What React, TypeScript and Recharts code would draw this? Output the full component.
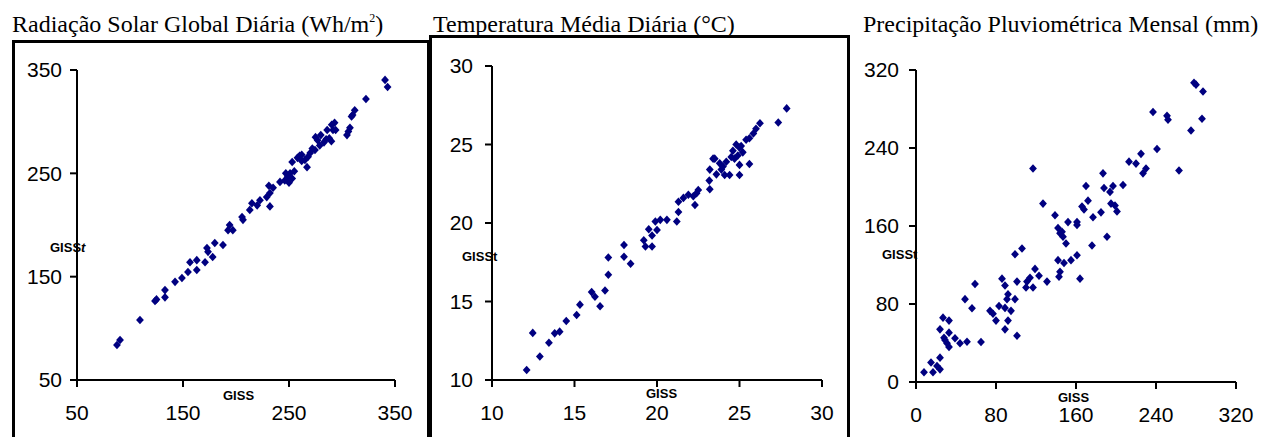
import React from 'react';
import { ScatterChart, Scatter, XAxis, YAxis } from 'recharts';

// Radiação solar global diária (Wh/m2)
const radGiss = [
  340.6, 343, 322.6, 312, 310, 309, 307.5, 306, 304.7, 293, 294, 290.3, 291.5, 286,
  275, 280, 285, 290, 283, 277, 288, 274.5, 270, 258, 262, 265, 268, 262, 260, 267,
  253, 246, 249, 251, 253, 255, 250, 247, 241.5, 235, 232, 229, 222.6, 220, 231, 232,
  215, 213, 205.7, 206.6, 194, 197, 192.5, 187.7, 180, 172.6, 173.6, 178, 170.8, 163,
  156.6, 163, 154.7, 149, 142.5, 133, 133, 123.6, 125, 109.4, 90.6, 87.7, 272, 279,
];
const radGisst = [
  340.4, 333.6, 322, 311, 306.5, 305, 294, 290.4, 287, 299, 292, 297, 292, 292,
  285, 287, 283, 281, 280, 282, 284, 272.6, 269.7, 265, 268, 263, 266, 262, 267, 256,
  261, 243, 247, 250, 245, 252, 241, 250, 241.7, 236, 231, 227, 224, 219, 238, 218,
  221, 214.6, 207.8, 205, 200, 195, 195, 180.7, 182.6, 177.8, 174, 169, 164, 166,
  164, 156.5, 154.5, 148.7, 145, 137, 130, 126.5, 128, 108, 88.7, 83.9, 274, 277,
];
const radTicks = [50, 150, 250, 350];

// Temperatura média diária (°C)
const tempGiss = [
  27.86, 27.35, 26.24, 26.0, 25.84, 25.6, 25.4, 24.8, 25.0, 24.6, 25.2, 24.9, 24.5,
  25.1, 24.7, 25.6, 25.0, 25.0, 24.4, 24.1, 23.5, 23.8, 24.0, 24.2, 23.9, 23.6, 23.4,
  23.2, 23.17, 23.2, 22.5, 22.4, 22.2, 22.3, 21.9, 21.6, 21.3, 21.3, 21.2, 20.6, 20.2,
  19.9, 20.0, 19.7, 19.5, 19.2, 19.3, 19.7, 18.0, 18.0, 18.4, 17.05, 17.05, 16.04,
  16.24, 16.85, 16.55, 15.33, 15.13, 14.5, 14.1, 13.8, 13.45, 12.47, 12.9, 12.1,
];
const tempGisst = [
  27.3, 26.4, 26.35, 26.0, 25.7, 25.4, 25.3, 25.0, 24.8, 24.6, 24.5, 24.3, 24.2,
  24.9, 24.1, 23.76, 23.7, 23.06, 23.06, 23.06, 24.1, 23.8, 23.6, 23.9, 23.4, 23.1, 24.1,
  23.4, 22.7, 22.15, 22.1, 21.9, 21.7, 21.15, 21.8, 21.6, 21.35, 20.7, 20.1, 20.2, 20.2,
  20.1, 19.55, 19.2, 19.6, 18.9, 18.5, 18.5, 18.6, 17.85, 17.4, 17.8, 16.7, 15.6,
  15.3, 15.7, 14.7, 14.8, 14.14, 13.76, 13.08, 12.97, 12.37, 13.0, 11.5, 10.64,
];
const tempTicks = [10, 15, 20, 25, 30];

// Precipitação pluviométrica mensal (mm)
const precGiss = [
  278, 280, 287, 237, 251, 252, 286, 275, 241, 225, 213, 220, 230, 227, 263, 187, 207,
  188, 197, 194, 170, 117, 127, 172, 166, 168, 195, 199, 201, 185, 177, 139, 152, 161,
  161, 142, 144, 146, 147, 191, 150, 176, 99, 106, 161, 142, 148, 155, 144, 143, 164,
  119, 123, 131, 114, 111, 117, 110, 101, 86, 89, 92, 91, 99, 83, 89, 95, 74, 77, 80,
  92, 89, 101, 59, 49, 56, 27, 33, 24, 33, 28, 39, 31, 33, 44, 51, 65, 24, 15, 21, 24,
  8, 17, 29,
];
const precGisst = [
  307, 305, 298, 277, 273, 269, 270, 258, 239, 234, 226, 224, 219, 214, 217, 214, 202,
  199, 201, 195, 201, 219, 183, 186, 180, 177, 183, 181, 175, 174, 169, 171, 164, 164,
  161, 158, 152.5, 154, 149, 149, 142, 140, 131, 137, 130, 125, 122, 125, 113, 108, 106,
  116, 109, 103, 107, 103, 97, 97, 103, 106, 99, 90, 85, 85, 78, 76, 73, 73, 70, 63,
  63, 54, 47.5, 100.5, 85, 75.6, 66, 63, 54, 50.6, 45.4, 44.8, 39.7, 36, 39.7, 41.3,
  41, 25, 20, 16.4, 13, 10, 10, 43,
];
const precTicks = [0, 80, 160, 240, 320];

const zip = (xs: number[], ys: number[]) => xs.map((x, i) => ({ x, y: ys[i] }));

const NAVY = '#000080';
const tickFont = { fill: '#000', fontSize: 21, fontFamily: 'Arial, "Liberation Sans", sans-serif' };
const serif = '"Liberation Serif", "Times New Roman", serif';
const boldSans = 'Arial, "Liberation Sans", sans-serif';

const Diamond = (props: any) => {
  const { cx, cy } = props;
  if (cx == null || cy == null) return <g />;
  return (
    <path
      d={`M${cx},${cy - 4.3}L${cx + 3.9},${cy}L${cx},${cy + 4.3}L${cx - 3.9},${cy}Z`}
      fill={NAVY}
    />
  );
};

type PanelProps = {
  x0: number;
  y0: number;
  w: number;
  h: number;
  data: { x: number; y: number }[];
  ticks: number[];
  yMargin: number;
};

const TOP = 22;

const Panel = ({ x0, y0, w, h, data, ticks, yMargin }: PanelProps) => {
  const domain: [number, number] = [ticks[0], ticks[ticks.length - 1]];
  return (
    <div style={{ position: 'absolute', left: x0 - 60, top: y0 - TOP }}>
      <ScatterChart
        width={60 + w + 26}
        height={TOP + h + 50}
        margin={{ top: TOP, right: 26, left: 0, bottom: 0 }}
      >
        <XAxis
          xAxisId="top"
          orientation="top"
          type="number"
          dataKey="x"
          domain={domain}
          height={0}
          tick={false}
          tickLine={false}
          axisLine={{ stroke: '#a0a0a0', strokeWidth: 1.5 }}
          allowDataOverflow
        />
        <YAxis
          yAxisId="right"
          orientation="right"
          type="number"
          dataKey="y"
          domain={domain}
          width={0}
          tick={false}
          tickLine={false}
          axisLine={{ stroke: '#a0a0a0', strokeWidth: 1.5 }}
          allowDataOverflow
        />
        <XAxis
          type="number"
          dataKey="x"
          domain={domain}
          ticks={ticks}
          interval={0}
          height={50}
          tickSize={7}
          tickMargin={18}
          tick={tickFont}
          axisLine={{ stroke: '#000', strokeWidth: 2 }}
          tickLine={{ stroke: '#000', strokeWidth: 2 }}
          allowDataOverflow
        />
        <YAxis
          type="number"
          dataKey="y"
          domain={domain}
          ticks={ticks}
          interval={0}
          width={60}
          tickSize={7}
          tickMargin={yMargin}
          tick={tickFont}
          axisLine={{ stroke: '#000', strokeWidth: 2 }}
          tickLine={{ stroke: '#000', strokeWidth: 2 }}
          allowDataOverflow
        />
        <Scatter data={data} shape={Diamond} isAnimationActive={false} />
      </ScatterChart>
    </div>
  );
};

const Title = ({ left, children }: { left: number; children: React.ReactNode }) => (
  <div
    style={{
      position: 'absolute',
      left,
      top: 12,
      fontFamily: serif,
      fontSize: 24,
      lineHeight: '24px',
      whiteSpace: 'nowrap',
      color: '#000',
    }}
  >
    {children}
  </div>
);

const AxisName = ({ left, top, children }: { left: number; top: number; children: React.ReactNode }) => (
  <div
    style={{
      position: 'absolute',
      left,
      top,
      fontFamily: boldSans,
      fontWeight: 'bold',
      fontSize: 13,
      lineHeight: '13px',
      whiteSpace: 'nowrap',
      color: '#000',
    }}
  >
    {children}
  </div>
);

const Frame = ({ left, top, width }: { left: number; top: number; width: number }) => (
  <div
    style={{
      position: 'absolute',
      left,
      top,
      width,
      height: 460,
      boxSizing: 'border-box',
      border: '3px solid #000',
      borderBottom: 'none',
    }}
  />
);

export default function App() {
  return (
    <div
      style={{
        position: 'absolute',
        left: 0,
        top: 0,
        width: 1264,
        height: 437,
        overflow: 'hidden',
        background: '#fff',
      }}
    >
      <Frame left={12} top={40} width={418} />
      <Frame left={429} top={35} width={421} />

      <Title left={12}>
        Radiação Solar Global Diária (Wh/m<sup style={{ fontSize: 12, verticalAlign: 'top', lineHeight: '12px' }}>2</sup>)
      </Title>
      <Title left={433}>Temperatura Média Diária (°C)</Title>
      <Title left={863}>Precipitação Pluviométrica Mensal (mm)</Title>

      <Panel x0={77} y0={70} w={318} h={310} data={zip(radGiss, radGisst)} ticks={radTicks} yMargin={8} />
      <Panel x0={492} y0={66} w={330} h={314} data={zip(tempGiss, tempGisst)} ticks={tempTicks} yMargin={12} />
      <Panel x0={916} y0={70} w={320} h={312} data={zip(precGiss, precGisst)} ticks={precTicks} yMargin={10} />

      <AxisName left={50} top={241}>
        GISS<i>t</i>
      </AxisName>
      <AxisName left={223} top={389}>GISS</AxisName>
      <AxisName left={462} top={250}>GISSt</AxisName>
      <AxisName left={646} top={387}>GISS</AxisName>
      <AxisName left={882} top={248}>GISSt</AxisName>
      <AxisName left={1058} top={391}>GISS</AxisName>
    </div>
  );
}
